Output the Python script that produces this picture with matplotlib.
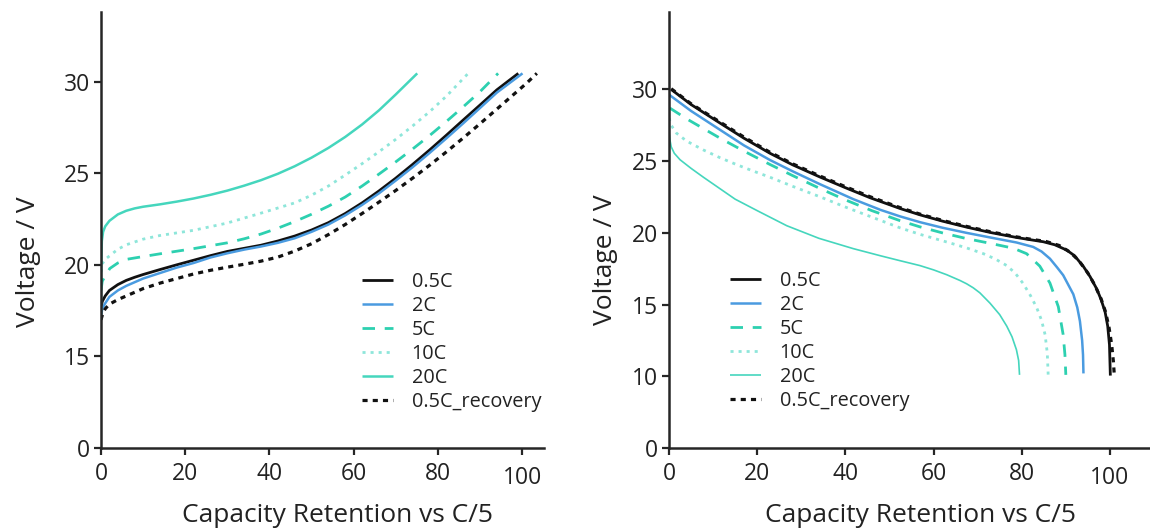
import numpy as np
import matplotlib
matplotlib.use("Agg")
import matplotlib.pyplot as plt
from matplotlib.ticker import NullLocator
from matplotlib.transforms import ScaledTranslation

plt.rcParams['font.family'] = ['Open Sans', 'DejaVu Sans']

# ---- charge curves (left panel) ----
Charge_05C_x = [0, 0.3, 1, 2, 4, 6, 8, 10, 14, 18, 22, 26, 30, 34, 38, 42, 46, 50, 54, 58, 62, 66, 70, 74, 78, 82, 86, 90, 94, 99.1]
Charge_05C_y = [17.6, 18.0, 18.3, 18.6, 18.92, 19.15, 19.32, 19.47, 19.74, 20.0, 20.25, 20.5, 20.73, 20.9, 21.07, 21.3, 21.57, 21.9, 22.3, 22.8, 23.38, 24.03, 24.73, 25.48, 26.26, 27.07, 27.9, 28.72, 29.55, 30.45]
Charge_2C_x = [0, 0.3, 1, 2, 4, 6, 8, 10, 14, 18, 22, 26, 30, 34, 38, 42, 46, 50, 54, 58, 62, 66, 70, 74, 78, 82, 86, 90, 94, 100.1]
Charge_2C_y = [17.2, 17.6, 17.9, 18.25, 18.6, 18.85, 19.05, 19.25, 19.55, 19.85, 20.1, 20.4, 20.63, 20.83, 21.0, 21.2, 21.45, 21.8, 22.2, 22.7, 23.27, 23.9, 24.6, 25.33, 26.1, 26.9, 27.72, 28.56, 29.4, 30.45]
Charge_5C_x = [0, 0.3, 1, 2.1, 4, 6.1, 10, 14, 21.9, 30, 34, 38, 42, 46, 50, 54, 58, 62, 66, 70, 74, 78, 82, 86, 90, 94.3]
Charge_5C_y = [18.6, 19.1, 19.4, 19.8, 20.1, 20.3, 20.45, 20.6, 20.88, 21.2, 21.42, 21.68, 22.0, 22.36, 22.76, 23.2, 23.7, 24.3, 24.95, 25.62, 26.32, 27.05, 27.82, 28.62, 29.45, 30.45]
Charge_10C_x = [0, 0.3, 1, 2.1, 4, 6.1, 10, 14, 21.9, 29.8, 37.7, 46, 50, 54, 58, 62, 66, 70, 74, 78, 82, 87.2]
Charge_10C_y = [19.6, 20.05, 20.3, 20.5, 20.85, 21.1, 21.4, 21.6, 21.88, 22.27, 22.8, 23.38, 23.8, 24.3, 24.9, 25.52, 26.17, 26.85, 27.58, 28.35, 29.2, 30.45]
Charge_20C_x = [0, 0, 0.2, 0.5, 1, 2, 4, 6, 8, 10, 14, 18, 22, 26, 30, 34, 38, 42, 46, 50, 54, 58, 62, 66, 70, 75.1]
Charge_20C_y = [17.1, 19.5, 21.3, 21.8, 22.1, 22.4, 22.75, 22.95, 23.08, 23.17, 23.3, 23.45, 23.62, 23.82, 24.05, 24.32, 24.62, 24.97, 25.38, 25.85, 26.38, 26.98, 27.66, 28.43, 29.3, 30.45]
Charge_Rec_x = [0, 0.5, 1, 2, 4, 6, 8, 10, 14, 18, 22, 26, 30, 34, 38, 42, 46, 50, 54, 58, 62, 66, 70, 74, 78, 82, 86, 90, 94, 98, 101, 103.5]
Charge_Rec_y = [17.0, 17.4, 17.6, 17.85, 18.1, 18.3, 18.5, 18.7, 19.0, 19.25, 19.5, 19.7, 19.87, 20.03, 20.2, 20.42, 20.75, 21.15, 21.65, 22.2, 22.8, 23.42, 24.06, 24.73, 25.43, 26.16, 26.92, 27.7, 28.5, 29.3, 29.9, 30.45]

# ---- discharge curves (right panel) ----
Dis_05C_x = [0.5, 5, 11.6, 17, 22.9, 28, 34.2, 40, 45.6, 52.4, 57, 62, 67.5, 73, 78.8, 82, 84.9, 87.5, 90.2, 92, 94.0, 95.5, 97.0, 98, 98.9, 99.5, 99.9, 100.1]
Dis_05C_y = [30.0, 28.95, 27.65, 26.6, 25.55, 24.75, 23.9, 23.15, 22.45, 21.7, 21.25, 20.82, 20.4, 20.02, 19.68, 19.52, 19.38, 19.17, 18.8, 18.4, 17.65, 16.95, 16.1, 15.35, 14.5, 13.5, 12.2, 10.05]
Dis_2C_x = [0, 5, 11.6, 17, 22.9, 28, 34.2, 41.8, 48, 52.4, 57, 62, 67.5, 73, 78.8, 82.6, 84.5, 86.4, 88, 89.4, 91.7, 92.6, 93.2, 93.7, 93.9, 94.0]
Dis_2C_y = [29.64, 28.5, 27.18, 26.1, 25.08, 24.3, 23.4, 22.35, 21.6, 21.15, 20.74, 20.36, 20.0, 19.67, 19.33, 19.02, 18.7, 18.2, 17.6, 17.05, 15.72, 14.8, 13.84, 12.5, 11.5, 10.2]
Dis_5C_x = [0.2, 4.0, 11.6, 17, 22.9, 28, 34.2, 40, 46, 52.4, 56.9, 62, 67.5, 73, 78.1, 81.1, 84.1, 86.4, 88.3, 89.4, 89.8, 90.0]
Dis_5C_y = [28.7, 27.95, 26.6, 25.7, 24.77, 24.0, 23.1, 22.3, 21.55, 20.85, 20.42, 20.0, 19.6, 19.26, 18.93, 18.55, 17.68, 16.5, 14.85, 12.9, 11.5, 10.1]
Dis_10C_x = [0, 0.5, 1.7, 4, 7.8, 11.5, 15.4, 19, 22.9, 28, 34.2, 40, 46, 52.4, 56.9, 63.7, 67.5, 71.3, 74, 76.6, 78.5, 80.3, 82, 83.4, 84.5, 85.3, 85.8, 86.0]
Dis_10C_y = [28.0, 27.5, 26.95, 26.4, 25.78, 25.25, 24.75, 24.32, 23.88, 23.25, 22.52, 21.8, 21.1, 20.35, 19.9, 19.3, 18.95, 18.55, 18.18, 17.72, 17.2, 16.48, 15.62, 14.78, 13.9, 12.9, 11.6, 10.1]
Dis_20C_x = [0, 0.2, 0.5, 1.2, 2.5, 5, 7.8, 11, 15, 20, 26.7, 34, 41.8, 48, 52.4, 56.9, 60, 63, 66, 67.5, 69, 70.5, 72.8, 75, 76.6, 77.8, 78.8, 79.3, 79.5]
Dis_20C_y = [27.06, 26.5, 26.0, 25.55, 25.1, 24.5, 23.88, 23.2, 22.35, 21.55, 20.5, 19.62, 18.9, 18.4, 18.06, 17.72, 17.42, 17.08, 16.68, 16.45, 16.17, 15.82, 15.1, 14.3, 13.5, 12.75, 11.85, 11.1, 10.1]
Dis_Rec_x = [0.5, 5, 11.6, 17, 22.9, 28, 34.2, 40, 45.6, 52.4, 57, 62, 67.5, 73, 78.8, 82, 85.5, 88.5, 91, 93, 95, 96.5, 98, 99, 99.8, 100.4, 100.8, 101.0]
Dis_Rec_y = [30.05, 29.0, 27.72, 26.68, 25.62, 24.82, 23.97, 23.22, 22.52, 21.76, 21.3, 20.87, 20.45, 20.07, 19.72, 19.56, 19.4, 19.12, 18.65, 18.05, 17.2, 16.4, 15.4, 14.5, 13.4, 12.2, 11.0, 10.05]

Labels = ["0.5C", "2C", "5C", "10C", "20C", "0.5C_recovery"]
Left_Yticks = [0, 15, 20, 25, 30]
Right_Yticks = [0, 10, 15, 20, 25, 30]
Xticks = [0, 20, 40, 60, 80, 100]

# y axis is squeezed below the break value (0-15 / 0-10 take the room of 5 V)
def make_scale(brk):
    k = brk / 5.0
    def fwd(y):
        y = np.asarray(y, dtype=float)
        return np.where(y < brk, y / k, y - brk + 5.0)
    def inv(t):
        t = np.asarray(t, dtype=float)
        return np.where(t < 5.0, t * k, t + brk - 5.0)
    return fwd, inv

Black = "#111111"
Blue = "#4a9be0"
Teal = "#2dd0b0"
Light_Teal = "#8ee6da"
Teal_20 = "#45d6bd"

def draw_panel(ax, data, lw20):
    styles = [
        dict(color=Black, lw=2.0, ls="-"),
        dict(color=Blue, lw=1.8, ls="-"),
        dict(color=Teal, lw=2.0, dashes=(4.5, 3.5)),
        dict(color=Light_Teal, lw=2.0, dashes=(1.1, 1.8)),
        dict(color=Teal_20, lw=lw20, ls="-"),
        dict(color=Black, lw=2.3, dashes=(1.6, 1.6)),
    ]
    for (xs, ys), lab, st in zip(data, Labels, styles):
        ax.plot(xs, ys, label=lab, solid_capstyle="butt", dash_capstyle="butt", **st)

def style_axes(ax, brk, ylim, yticks, xlim):
    fwd, inv = make_scale(brk)
    ax.set_yscale("function", functions=(fwd, inv))
    ax.set_ylim(*ylim)
    ax.set_xlim(*xlim)
    ax.set_yticks(yticks)
    ax.set_xticks(Xticks)
    ax.yaxis.set_minor_locator(NullLocator())
    ax.xaxis.set_minor_locator(NullLocator())
    for s in ["top", "right"]:
        ax.spines[s].set_visible(False)
    for s in ["left", "bottom"]:
        ax.spines[s].set_linewidth(1.8)
        ax.spines[s].set_color("#262626")
    ax.tick_params(axis="both", direction="out", length=5, width=1.6, colors="#262626", labelsize=16.5, labelcolor="#222222")
    ax.tick_params(axis="y", pad=3)
    ax.tick_params(axis="x", pad=5)
    ax.set_xlabel("Capacity Retention vs C/5", fontsize=19, color="#222222")
    ax.set_ylabel("Voltage / V", fontsize=19, color="#222222")
    # the 100 label sits a bit lower in the original
    fig = ax.figure
    lab = ax.get_xticklabels()[-1]
    lab.set_transform(lab.get_transform() + ScaledTranslation(0, -4 / 100, fig.dpi_scale_trans))

fig = plt.figure(figsize=(11.5, 5.29), dpi=100)
ax1 = fig.add_axes([101 / 1150, 81 / 529, 443 / 1150, 436 / 529])
ax2 = fig.add_axes([669 / 1150, 81 / 529, 485 / 1150, 436 / 529])

draw_panel(ax1, [(Charge_05C_x, Charge_05C_y), (Charge_2C_x, Charge_2C_y), (Charge_5C_x, Charge_5C_y),
                 (Charge_10C_x, Charge_10C_y), (Charge_20C_x, Charge_20C_y), (Charge_Rec_x, Charge_Rec_y)], 1.8)
draw_panel(ax2, [(Dis_05C_x, Dis_05C_y), (Dis_2C_x, Dis_2C_y), (Dis_5C_x, Dis_5C_y),
                 (Dis_10C_x, Dis_10C_y), (Dis_20C_x, Dis_20C_y), (Dis_Rec_x, Dis_Rec_y)], 1.2)

style_axes(ax1, 15, (0, 33.8), Left_Yticks, (0, 105.2))
style_axes(ax2, 10, (0, 35.4), Right_Yticks, (0, 110))

ax1.xaxis.label.set_va("baseline")
ax1.xaxis.set_label_coords(0.533, -0.169)
ax2.xaxis.label.set_va("baseline")
ax2.xaxis.set_label_coords(0.519, -0.169)
ax1.yaxis.set_label_coords(-0.135, 0.427)
ax2.yaxis.set_label_coords(-0.106, 0.431)

leg_kw = dict(frameon=False, fontsize=14.3, handlelength=1.55, handletextpad=0.95, labelspacing=0.2,
              borderpad=0, borderaxespad=0, loc="upper left")
l1 = ax1.legend(bbox_to_anchor=(362 / 1150, 1 - 272 / 529), bbox_transform=fig.transFigure, **leg_kw)
l2 = ax2.legend(bbox_to_anchor=(730 / 1150, 1 - 271 / 529), bbox_transform=fig.transFigure, **leg_kw)
for l in (l1, l2):
    for t in l.get_texts():
        t.set_color("#222222")

fig.savefig("out.png", dpi=100)
